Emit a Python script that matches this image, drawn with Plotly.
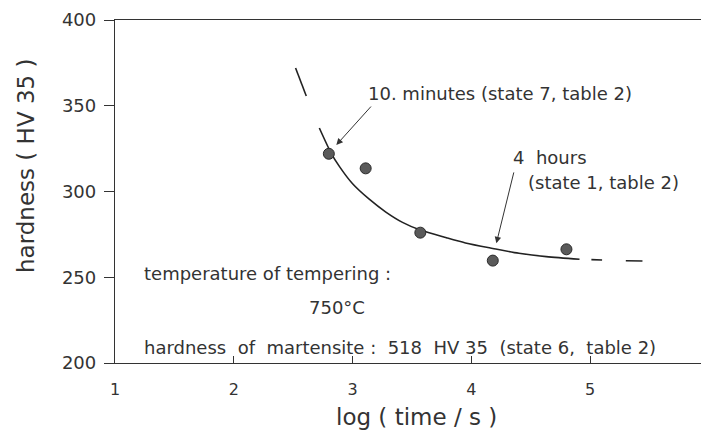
import plotly.graph_objects as go

# measured points
meas_logt = [2.80, 3.11, 3.57, 4.18, 4.80]
meas_hv = [322, 313.5, 276, 259.7, 266.3]

# fitted curve
solid_logt = [2.72, 2.82, 2.89, 3.00, 3.14, 3.28, 3.42, 3.57, 3.79, 3.95, 4.18, 4.40, 4.63, 4.91]
solid_hv = [337.0, 322.3, 314.5, 304.5, 295.5, 288.0, 282.0, 277.5, 273.0, 270.0, 266.8, 264.0, 262.0, 260.5]

# extrapolated (dashed) pieces
dash_logt = [2.52, 2.61, None, 5.01, 5.10, None, 5.30, 5.44]
dash_hv = [372.0, 355.7, None, 260.3, 260.1, None, 259.6, 259.5]

x_ticks = [1, 2, 3, 4, 5, 6]
y_ticks = [200, 250, 300, 350, 400]

FONT = "DejaVu Sans"
TXT = "#333333"

fig = go.Figure()
fig.add_trace(go.Scatter(x=solid_logt, y=solid_hv, mode="lines",
                         line=dict(color="#222222", width=1.6, shape="spline", smoothing=0.8),
                         hoverinfo="skip", showlegend=False))
fig.add_trace(go.Scatter(x=dash_logt, y=dash_hv, mode="lines",
                         line=dict(color="#222222", width=1.6),
                         connectgaps=False, hoverinfo="skip", showlegend=False))
fig.add_trace(go.Scatter(x=meas_logt, y=meas_hv, mode="markers",
                         marker=dict(size=11, color="#5a5a5a",
                                     line=dict(color="#2a2a2a", width=1)),
                         showlegend=False))

annots = [
    dict(x=3.115, y=357.4, text="10. minutes (state 7, table 2)"),
    dict(x=4.335, y=320.1, text="4  hours"),
    dict(x=4.461, y=305.0, text="(state 1, table 2)"),
    dict(x=1.231, y=251.9, text="temperature of tempering :"),
    dict(x=2.62, y=232.1, text="750°C"),
    dict(x=1.231, y=209.3, text="hardness  of  martensite :  518  HV 35  (state 6,  table 2)"),
]
for a in annots:
    fig.add_annotation(x=a["x"], y=a["y"], text=a["text"], xanchor="left",
                       yanchor="middle", showarrow=False,
                       font=dict(family=FONT, size=18, color=TXT))

# arrows
fig.add_annotation(x=2.863, y=327.1, ax=3.166, ay=350.4, axref="x", ayref="y",
                   showarrow=True, arrowhead=2, arrowsize=1.3, arrowwidth=1,
                   arrowcolor="#333333", text="")
fig.add_annotation(x=4.21, y=269.8, ax=4.36, ay=312.0, axref="x", ayref="y",
                   showarrow=True, arrowhead=2, arrowsize=1.3, arrowwidth=1,
                   arrowcolor="#333333", text="")

# axis titles
fig.add_annotation(xref="paper", yref="paper", x=-0.150, y=0.577,
                   text="hardness ( HV 35 )", textangle=-90, showarrow=False,
                   xanchor="center", yanchor="middle",
                   font=dict(family=FONT, size=23, color=TXT))
fig.add_annotation(xref="paper", yref="paper", x=0.507, y=-0.157,
                   text="log ( time / s )", showarrow=False,
                   xanchor="center", yanchor="middle",
                   font=dict(family=FONT, size=23, color=TXT))

fig.update_xaxes(range=[1, 6], tickvals=x_ticks, ticks="inside", ticklen=7,
                 tickcolor="#333", showline=True, linecolor="#333", linewidth=1.3,
                 mirror=True, showgrid=False, zeroline=False, automargin=False,
                 ticklabelstandoff=12,
                 tickfont=dict(family=FONT, size=16, color=TXT))
fig.update_yaxes(range=[200, 400], tickvals=y_ticks, ticks="outside", ticklen=10,
                 tickcolor="#333", showline=True, linecolor="#333", linewidth=1.3,
                 mirror=True, showgrid=False, zeroline=False, automargin=False,
                 ticklabelstandoff=4,
                 tickfont=dict(family=FONT, size=18, color=TXT))

# page body adds an 8px offset, so the figure is sized to fit the window
fig.update_layout(width=701, height=427,
                  margin=dict(l=107, r=0, t=12, b=72),
                  plot_bgcolor="white", paper_bgcolor="white")

fig.write_html("out.html")
